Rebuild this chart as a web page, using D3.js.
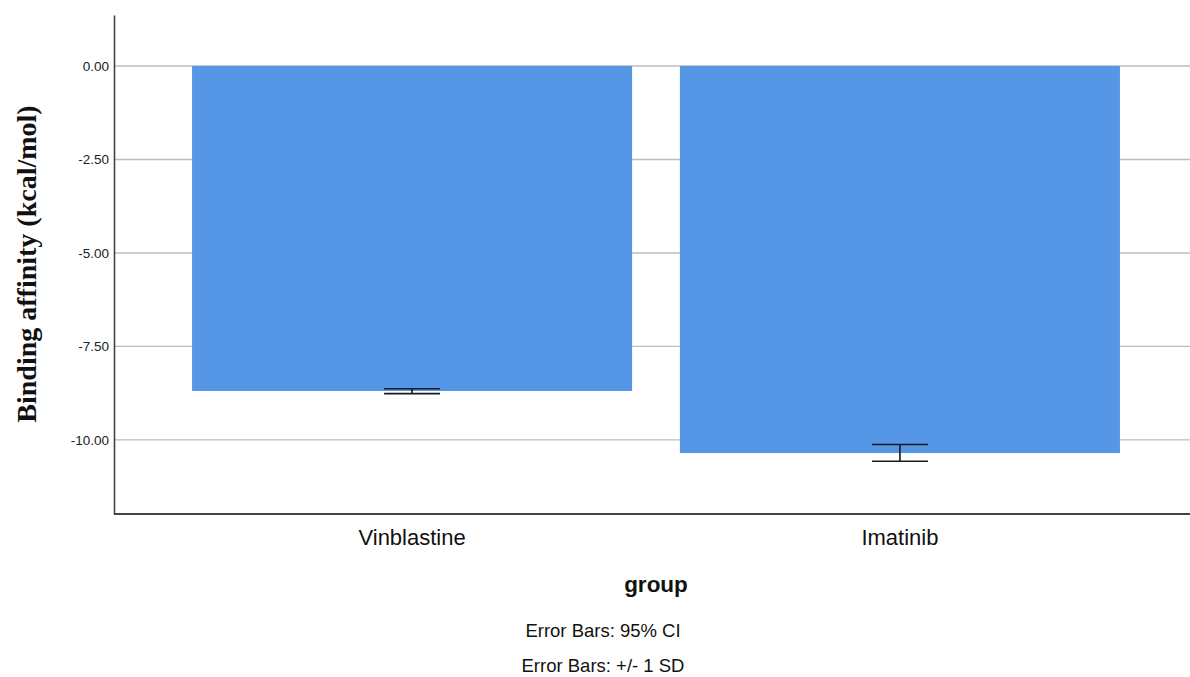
<!DOCTYPE html>
<html><head><meta charset="utf-8">
<script src="https://cdn.jsdelivr.net/npm/d3@7"></script>
<style>body{margin:0;background:#fff;}svg{display:block;}</style>
</head><body>
<svg id="chart" width="1190" height="677"></svg>
<script>
const categories = ["Vinblastine", "Imatinib"];
const means = [-8.69, -10.35];
const errLow = [-8.76, -10.57];
const errHigh = [-8.63, -10.12];
const yTicks = [0, -2.5, -5, -7.5, -10];
const notes = ["Error Bars: 95% CI", "Error Bars: +/- 1 SD"];

const svg = d3.select("#chart");
const mLeft = 114, mRight = 1190, mTop = 15, mBottom = 514;

const y = d3.scaleLinear().domain([1.364, -11.98]).range([mTop, mBottom]);
const x = d3.scaleBand().domain(categories).range([mLeft, 1198]).paddingInner(0.098).paddingOuter(0.16);

// gridlines
svg.append("g").selectAll("line").data(yTicks).join("line")
  .attr("x1", mLeft).attr("x2", mRight)
  .attr("y1", d => y(d)).attr("y2", d => y(d))
  .attr("stroke", "#bdbdbd").attr("stroke-width", 1.3);

// bars
svg.append("g").selectAll("rect").data(categories).join("rect")
  .attr("x", d => x(d)).attr("width", x.bandwidth())
  .attr("y", y(0)).attr("height", (d, i) => y(means[i]) - y(0))
  .attr("fill", "#5596e6");

// error bars
const eb = svg.append("g").attr("stroke", "#1a1a1a").attr("stroke-width", 1.6);
categories.forEach((c, i) => {
  const cx = x(c) + x.bandwidth() / 2;
  eb.append("line").attr("x1", cx).attr("x2", cx).attr("y1", y(errHigh[i])).attr("y2", y(errLow[i]));
  [errHigh[i], errLow[i]].forEach(v => {
    eb.append("line").attr("x1", cx - 28).attr("x2", cx + 28).attr("y1", y(v)).attr("y2", y(v));
  });
});

// y axis
const fmt = d3.format(".2f");
const yAxis = svg.append("g").attr("transform", `translate(${mLeft},0)`)
  .call(d3.axisLeft(y).tickValues(yTicks).tickFormat(d => fmt(d).replace("\u2212", "-")).tickSize(0).tickPadding(5));
yAxis.select(".domain").attr("stroke", "#444").attr("stroke-width", 1.6);
yAxis.selectAll("text").attr("font-family", "Liberation Sans, Arial, sans-serif").attr("font-size", 13.5).attr("fill", "#222");

// x axis
const xAxis = svg.append("g").attr("transform", `translate(0,${mBottom})`)
  .call(d3.axisBottom(x).tickSize(0).tickPadding(15));
xAxis.select(".domain").attr("d", `M${mLeft},0H${mRight}`).attr("stroke", "#444").attr("stroke-width", 1.8);
xAxis.selectAll("text").attr("font-family", "Liberation Sans, Arial, sans-serif").attr("font-size", 22).attr("fill", "#111");

// titles
svg.append("text").attr("x", 656).attr("y", 592).attr("text-anchor", "middle")
  .attr("font-family", "Liberation Sans, Arial, sans-serif").attr("font-weight", "bold").attr("font-size", 22.5)
  .attr("fill", "#111").text("group");

svg.append("text").attr("transform", "translate(36,264) rotate(-90)").attr("text-anchor", "middle")
  .attr("font-family", "Liberation Serif, Times New Roman, serif").attr("font-weight", "bold").attr("font-size", 28)
  .attr("fill", "#111").text("Binding affinity (kcal/mol)");

svg.append("g").selectAll("text").data(notes).join("text")
  .attr("x", 603).attr("y", (d, i) => 637 + i * 35).attr("text-anchor", "middle")
  .attr("font-family", "Liberation Sans, Arial, sans-serif").attr("font-size", 18.5).attr("fill", "#111")
  .text(d => d);
</script>
</body></html>
